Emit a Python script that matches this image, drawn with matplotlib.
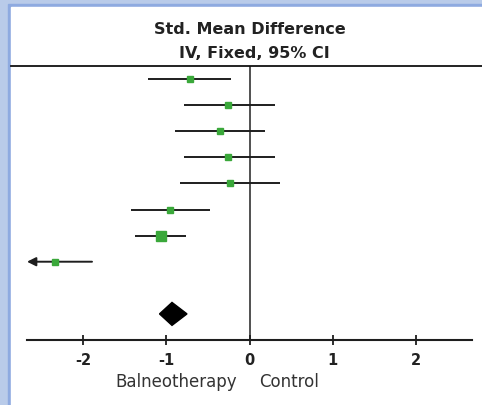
import numpy as np
import matplotlib.pyplot as plt
from matplotlib.patches import Rectangle, Polygon
from matplotlib.lines import Line2D

# study rows: standardised mean difference with 95% CI
smd = [-0.72, -0.26, -0.36, -0.26, -0.23, -0.95, -1.06, -2.34]
ci_low = [-1.22, -0.79, -0.90, -0.79, -0.83, -1.42, -1.38, -2.79]
ci_high = [-0.22, 0.30, 0.19, 0.30, 0.37, -0.47, -0.76, -1.89]
weight = [8.3, 8.3, 8.3, 8.3, 8.3, 12.5, 34.7, 11.1]

# pooled estimate: point, lower, upper
total = [-0.93, -1.08, -0.75]

ticks = [-2, -1, 0, 1, 2]
header = ['Std. Mean Difference', 'IV, Fixed, 95% CI']
favours = ['Balneotherapy', 'Control']

W, H = 482, 406
green = '#3aa83a'
dark = '#1e1e1e'
font = 'DejaVu Sans'

fig = plt.figure(figsize=(W / 100, H / 100), dpi=100, facecolor='#b9cbe9')
fig.patches.append(Rectangle((8 / W, 0), 1, 1 - 5 / H, transform=fig.transFigure,
                             color='#8eaae0', zorder=-10))
fig.patches.append(Rectangle((11 / W, 0), 1, 1 - 8 / H, transform=fig.transFigure,
                             color='white', zorder=-9))

ax = fig.add_axes([27 / W, 1 - 341 / H, 445 / W, 274 / H])
ax.set_facecolor('none')
xmin, xmax = -2.67, 2.67
ax.set_xlim(xmin, xmax)
ax.set_ylim(10, -0.5)

for s in ['left', 'right', 'top']:
    ax.spines[s].set_visible(False)
ax.spines['bottom'].set_color(dark)
ax.spines['bottom'].set_linewidth(1.5)
ax.set_yticks([])
ax.set_xticks(ticks)
ax.set_xticklabels([str(t) for t in ticks], fontsize=10.5, fontweight='bold',
                   family=font, color='#222')
ax.tick_params(axis='x', direction='inout', length=7, width=1.3, pad=5, color=dark)

ax.axvline(0, color='#333333', lw=1.2, zorder=1)

rows = np.arange(len(smd))
for yi, est, lo, hi, w in zip(rows, smd, ci_low, ci_high, weight):
    if lo < xmin:
        ax.annotate('', xy=(xmin, yi), xytext=(hi, yi),
                    arrowprops=dict(arrowstyle='-|>', color=dark, lw=1.4,
                                    mutation_scale=13, shrinkA=0, shrinkB=0))
    else:
        ax.plot([lo, hi], [yi, yi], color=dark, lw=1.4, solid_capstyle='butt', zorder=2)
    side = 1.75 * np.sqrt(w) * 0.72
    ax.plot(est, yi, 's', ms=side, color=green, mec=green, zorder=3)

# pooled diamond
yd = len(smd) + 1
h = 0.44
ax.add_patch(Polygon([(total[1], yd), (total[0], yd - h), (total[2], yd), (total[0], yd + h)],
                     closed=True, color='black', zorder=3))

fig.add_artist(Line2D([11 / W, 1], [1 - 67 / H] * 2, transform=fig.transFigure,
                      color='#111111', lw=1.3))
fig.text(250 / W, 1 - 29 / H, header[0], ha='center', va='center', fontsize=11.5,
         fontweight='bold', family=font, color='#222')
fig.text(254 / W, 1 - 53 / H, header[1], ha='center', va='center', fontsize=11.5,
         fontweight='bold', family=font, color='#222')
fig.text(176 / W, 1 - 382 / H, favours[0], ha='center', va='center', fontsize=12,
         family=font, color='#333')
fig.text(289 / W, 1 - 382 / H, favours[1], ha='center', va='center', fontsize=12,
         family=font, color='#333')

fig.savefig('out.png', dpi=100, facecolor=fig.get_facecolor())
